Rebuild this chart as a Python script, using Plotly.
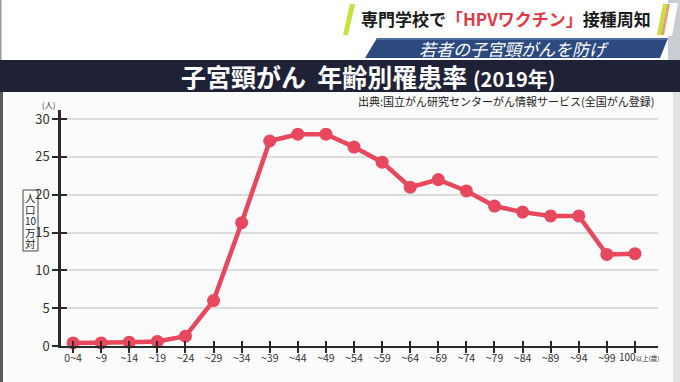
import plotly.graph_objects as go

# ---- data ----
age_groups = ["0~4", "~9", "~14", "~19", "~24", "~29", "~34", "~39", "~44", "~49",
              "~54", "~59", "~64", "~69", "~74", "~79", "~84", "~89", "~94", "~99", "100以上(歳)"]
rate = [0.4, 0.4, 0.5, 0.6, 1.3, 6.0, 16.3, 27.1, 28.0, 28.0,
        26.3, 24.3, 21.0, 22.0, 20.5, 18.5, 17.7, 17.2, 17.2, 12.1, 12.2]
y_ticks = [0, 5, 10, 15, 20, 25, 30]
unit_box_chars = ["人", "口", "10", "万", "対"]
# last label is drawn as an annotation (smaller "以上(歳)" suffix)
tick_labels = age_groups[:-1] + [""]
last_label = "100<span style='font-size:6.5px'>以上(歳)</span>"

W, H = 680, 382
def fx(p):
    return p / W
def fy(p):
    return 1 - p / H

FONT = "Noto Sans CJK JP"
LINE = "#e8485e"

fig = go.Figure()
fig.add_trace(go.Scatter(
    x=list(range(len(age_groups))), y=rate, mode="lines+markers",
    line=dict(color=LINE, width=4.5), marker=dict(color=LINE, size=13),
    showlegend=False, hoverinfo="skip", cliponaxis=False,
))
# invisible trace for overlay axes (crossing ticks)
fig.add_trace(go.Scatter(x=[0], y=[0], xaxis="x2", yaxis="y2", mode="markers",
                         marker=dict(opacity=0), showlegend=False, hoverinfo="skip"))

xr = [-0.43, 20.82]
yr = [0, 31.2]
xdom = [fx(61), fx(658)]
ydom = [fy(346), fy(110)]

fig.update_layout(
    width=W, height=H,
    margin=dict(l=0, r=0, t=0, b=0),
    paper_bgcolor="#ffffff", plot_bgcolor="#ffffff",
    font=dict(family=FONT, color="#333333"),
    xaxis=dict(domain=xdom, range=xr, tickmode="array",
               tickvals=list(range(len(age_groups))), ticktext=tick_labels,
               tickfont=dict(size=10.5, color="#333333"), tickangle=0,
               ticklabelstandoff=-4,
               showline=True, linecolor="#2a2a2a", linewidth=2,
               ticks="outside", ticklen=5, tickwidth=1.5, tickcolor="#2a2a2a",
               showgrid=False, zeroline=False, automargin=False, fixedrange=True),
    yaxis=dict(domain=ydom, range=yr, tickmode="array", tickvals=y_ticks,
               tickfont=dict(size=13, color="#333333"),
               showline=True, linecolor="#2a2a2a", linewidth=2.5,
               ticks="outside", ticklen=6, tickwidth=1.5, tickcolor="#2a2a2a",
               showgrid=True, gridcolor="#dcdcdc", gridwidth=1.5,
               zeroline=False, automargin=False, fixedrange=True),
    xaxis2=dict(domain=xdom, range=xr, overlaying="x", anchor="y2",
                tickmode="array", tickvals=list(range(len(age_groups))),
                showticklabels=False, ticks="inside", ticklen=5, tickwidth=1.5,
                tickcolor="#2a2a2a", showgrid=False, zeroline=False, showline=False),
    yaxis2=dict(domain=ydom, range=yr, overlaying="y", anchor="x2",
                tickmode="array", tickvals=y_ticks, showticklabels=False,
                ticks="inside", ticklen=6, tickwidth=1.5, tickcolor="#2a2a2a",
                showgrid=False, zeroline=False, showline=False),
)

shapes = []
# chart panel background below band
shapes.append(dict(type="rect", xref="paper", yref="paper", x0=0, x1=1, y0=0, y1=fy(92),
                   fillcolor="#fbfbfb", line=dict(width=0), layer="below"))
# navy band
shapes.append(dict(type="rect", xref="paper", yref="paper", x0=0, x1=1, y0=fy(92), y1=fy(60),
                   fillcolor="#1f2236", line=dict(width=0), layer="below"))
# borders
shapes.append(dict(type="rect", xref="paper", yref="paper", x0=0, x1=fx(3), y0=0, y1=fy(92),
                   fillcolor="#5a5a5a", line=dict(width=0), layer="below"))
shapes.append(dict(type="rect", xref="paper", yref="paper", x0=fx(673), x1=1, y0=0, y1=fy(92),
                   fillcolor="#e2e2e2", line=dict(width=0), layer="below"))
shapes.append(dict(type="rect", xref="paper", yref="paper", x0=0, x1=fx(1.5), y0=fy(60), y1=1,
                   fillcolor="#9a9a9a", line=dict(width=0), layer="below"))
# top-right grey corner
shapes.append(dict(type="rect", xref="paper", yref="paper", x0=fx(668), x1=1, y0=fy(60), y1=1,
                   fillcolor="#c9cdd2", line=dict(width=0), layer="below"))
# headline slashes
def para(x0b, x1b, x0t, x1t, yb, yt, color):
    return dict(type="path", xref="paper", yref="paper",
                path=f"M {fx(x0b)} {fy(yb)} L {fx(x1b)} {fy(yb)} L {fx(x1t)} {fy(yt)} L {fx(x0t)} {fy(yt)} Z",
                fillcolor=color, line=dict(width=0), layer="below")
shapes.append(para(650, 672, 656, 678, 36, 3, "#ffffff"))
shapes.append(para(343, 348, 350, 355, 35, 4, "#c6e23a"))
shapes.append(para(657, 661, 663, 667, 35, 4, "#c6e23a"))
shapes.append(para(661, 664, 667, 670, 35, 4, "#e8a070"))
# blue bar
shapes.append(para(365, 660, 377, 668, 58, 38, "#2c4a80"))
shapes.append(para(376, 667, 377, 668, 40, 38, "#4d6da3"))
# unit box
shapes.append(dict(type="rect", xref="paper", yref="paper", x0=fx(23), x1=fx(38),
                   y0=fy(251), y1=fy(190), fillcolor="#ffffff",
                   line=dict(color="#444444", width=1), layer="below"))
fig.update_layout(shapes=shapes)

ann = []
ann.append(dict(x=fx(506), y=fy(19), xref="paper", yref="paper", showarrow=False,
                text="<b>専門学校で<span style='color:#e03a46'>「HPVワクチン」</span>接種周知</b>",
                font=dict(family=FONT, size=17, color="#1a1a1a"), xanchor="center", yanchor="middle"))
ann.append(dict(x=fx(514), y=fy(48), xref="paper", yref="paper", showarrow=False,
                text="<i>若者の子宮頸がんを防げ</i>",
                font=dict(family=FONT, size=17, color="#ffffff"), xanchor="center", yanchor="middle"))
ann.append(dict(x=fx(368), y=fy(76), xref="paper", yref="paper", showarrow=False,
                text="<b>子宮頸がん  年齢別罹患率 <span style='font-size:20px'>(2019年)</span></b>",
                font=dict(family=FONT, size=25, color="#ffffff"), xanchor="center", yanchor="middle"))
ann.append(dict(x=fx(657), y=fy(101), xref="paper", yref="paper", showarrow=False,
                text="出典:国立がん研究センターがん情報サービス(全国がん登録)",
                font=dict(family=FONT, size=11, color="#222222"), xanchor="right", yanchor="middle"))
ann.append(dict(x=fx(48), y=fy(104), xref="paper", yref="paper", showarrow=False,
                text="(人)", font=dict(family=FONT, size=8, color="#333333"),
                xanchor="center", yanchor="middle"))
for i, ch in enumerate(unit_box_chars):
    ann.append(dict(x=fx(30.5), y=fy(197.5 + i * 11.6), xref="paper", yref="paper",
                    showarrow=False, text=ch,
                    font=dict(family=FONT, size=10.5 if ch != "10" else 10, color="#222222"),
                    xanchor="center", yanchor="middle"))
ann.append(dict(x=len(age_groups) - 1, y=0, xref="x", yref="y", showarrow=False,
                text=last_label, xanchor="center", yanchor="top", xshift=5, yshift=-1,
                font=dict(family=FONT, size=10, color="#333333")))
fig.update_layout(annotations=ann)

fig.write_html("out.html", config={"displayModeBar": False},
               post_script="document.body.style.margin='0';")
